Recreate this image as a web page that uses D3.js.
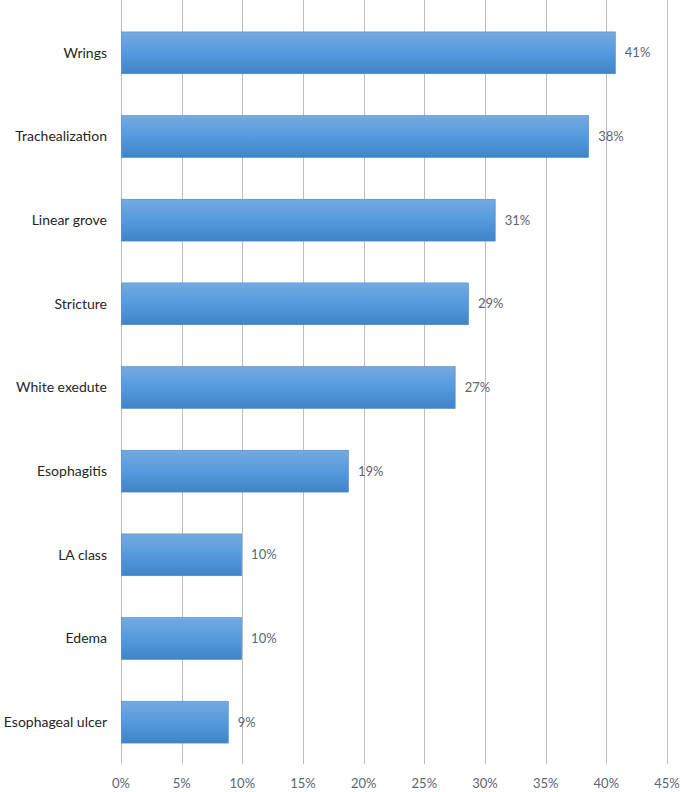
<!DOCTYPE html>
<html lang="en">
<head>
<meta charset="utf-8">
<script src="https://d3js.org/d3.v7.min.js"></script>
<style>
  body { margin: 0; background: #fff; }
  text { font-family: Lato, "Open Sans", sans-serif; }
</style>
</head>
<body>
<div id="chart"></div>
<script>
// categories and values (percent)
const categories = ["Wrings", "Trachealization", "Linear grove", "Stricture", "White exedute",
                    "Esophagitis", "LA class", "Edema", "Esophageal ulcer"]
const values = [40.7, 38.5, 30.8, 28.6, 27.5, 18.7, 9.9, 9.9, 8.8]
const labels = ["41%", "38%", "31%", "29%", "27%", "19%", "10%", "10%", "9%"]
const ticks = [0, 5, 10, 15, 20, 25, 30, 35, 40, 45]

const width = 681, height = 792
const plotLeft = 121, plotRight = 667, plotTop = 11, plotBottom = 764

const data = categories.map((c, i) => ({cat: c, val: values[i], lab: labels[i]}))

const svg = d3.select("#chart").append("svg")
    .attr("width", width)
    .attr("height", height)

const defs = svg.append("defs")
const grad = defs.append("linearGradient")
    .attr("id", "barGrad")
    .attr("x1", 0).attr("y1", 0).attr("x2", 0).attr("y2", 1)
grad.append("stop").attr("offset", "0%").attr("stop-color", "#74aae0")
grad.append("stop").attr("offset", "50%").attr("stop-color", "#559ade")
grad.append("stop").attr("offset", "100%").attr("stop-color", "#3f84c6")

const x = d3.scaleLinear().domain([0, 45]).range([plotLeft, plotRight])
const y = d3.scaleBand().domain(categories).range([plotTop, plotBottom]).paddingInner(0.5).paddingOuter(0.25)

// gridlines
svg.append("g")
    .selectAll("line")
    .data(ticks)
    .join("line")
    .attr("x1", d => Math.round(x(d)) + 0.5)
    .attr("x2", d => Math.round(x(d)) + 0.5)
    .attr("y1", 0)
    .attr("y2", plotBottom)
    .attr("stroke", "#bdbdbd")
    .attr("stroke-width", 1)

// x tick labels
svg.append("g")
    .selectAll("text")
    .data(ticks)
    .join("text")
    .attr("x", d => x(d))
    .attr("y", 788)
    .attr("text-anchor", "middle")
    .attr("font-size", 13)
    .attr("fill", "#5b6475")
    .text(d => d + "%")

// bars
svg.append("g")
    .selectAll("rect")
    .data(data)
    .join("rect")
    .attr("x", x(0) + 0.5)
    .attr("y", d => y(d.cat))
    .attr("width", d => x(d.val) - x(0))
    .attr("height", y.bandwidth())
    .attr("fill", "url(#barGrad)")
    .attr("stroke", "#4a88c8")
    .attr("stroke-width", 0.6)

// value labels
svg.append("g")
    .selectAll("text")
    .data(data)
    .join("text")
    .attr("x", d => x(d.val) + 10)
    .attr("y", d => y(d.cat) + y.bandwidth() / 2)
    .attr("dy", "0.35em")
    .attr("font-size", 13)
    .attr("fill", "#5b6475")
    .text(d => d.lab)

// category labels
svg.append("g")
    .selectAll("text")
    .data(data)
    .join("text")
    .attr("x", 107)
    .attr("y", d => y(d.cat) + y.bandwidth() / 2)
    .attr("dy", "0.35em")
    .attr("text-anchor", "end")
    .attr("font-size", 14)
    .attr("fill", "#262626")
    .text(d => d.cat)
</script>
</body>
</html>
